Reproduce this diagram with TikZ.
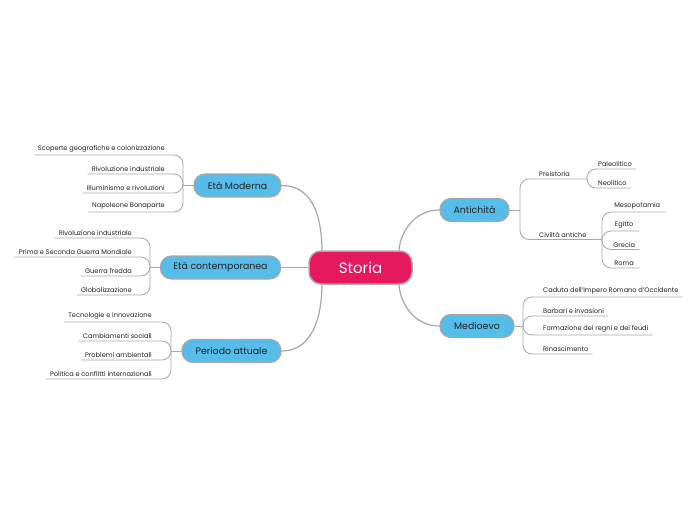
\documentclass[tikz,border=0pt]{standalone}
\usepackage{fontspec}
\setmainfont{Poppins}
\definecolor{topicblue}{HTML}{56BDEA}
\definecolor{rootred}{HTML}{E6195F}
\definecolor{edgegray}{HTML}{A8A8A8}
\definecolor{txt}{HTML}{222222}
\tikzset{
  rootnode/.style={draw=edgegray, line width=1.5pt, fill=rootred, rounded corners=12pt,
    minimum width=103pt, minimum height=33pt, text=white, font=\fontsize{15}{17}\selectfont},
  topic/.style={draw=edgegray, line width=1.2pt, fill=topicblue, rounded corners=11pt,
    minimum height=23pt, inner xsep=13pt, text=txt, font=\fontsize{9.4}{11}\selectfont},
  leafl/.style={anchor=south east, inner xsep=4pt, inner ysep=2.2pt, text=txt, font=\fontsize{6.6}{8}\selectfont},
  leafr/.style={anchor=south west, inner xsep=4pt, inner ysep=2.2pt, text=txt, font=\fontsize{6.6}{8}\selectfont},
  mainedge/.style={draw=edgegray, line width=1.2pt},
  subedge/.style={draw=edgegray, line width=0.8pt, rounded corners=9pt},
}
\begin{document}
\begin{tikzpicture}[x=1pt, y=-1pt]
\useasboundingbox (0,0) rectangle (697,520);
\fill[white] (0,0) rectangle (697,520);

% root and topics
\node[rootnode] (storia) at (360.5,267.5) {Storia};
\node[topic, minimum width=87pt] (moderna) at (237.5,185.5) {Età Moderna};
\node[topic, minimum width=119pt] (contemp) at (220.5,267.5) {Età contemporanea};
\node[topic, minimum width=99pt] (attuale) at (231.5,351) {Periodo attuale};
\node[topic, minimum width=69pt] (antichita) at (474.5,210) {Antichità};
\node[topic, minimum width=74pt] (medioevo) at (477,326) {Medioevo};

% main connectors
\coordinate (sNW) at (322,252);
\coordinate (sSW) at (322,283);
\coordinate (sNE) at (399,252);
\coordinate (sSE) at (399,283);
\draw[mainedge] (moderna.east) .. controls (312,185.5) and (322,215) .. (sNW);
\draw[mainedge] (contemp.east) -- (storia.west);
\draw[mainedge] (attuale.east) .. controls (312,351) and (322,318) .. (sSW);
\draw[mainedge] (antichita.west) .. controls (412,210) and (399,236) .. (sNE);
\draw[mainedge] (medioevo.west) .. controls (412,326) and (399,300) .. (sSE);

% ---------- Età Moderna ----------
\coordinate (jm) at (183,185.5);
\draw[subedge] (moderna.west) -- (jm);
\node[leafl] (m1) at (169,155) {Scoperte geografiche e colonizzazione};
\node[leafl] (m2) at (169,174) {Rivoluzione industriale};
\node[leafl] (m3) at (169,193) {Illuminismo e rivoluzioni};
\node[leafl] (m4) at (169,212) {Napoleone Bonaparte};
\foreach \n in {m1,m2,m3,m4} \draw[subedge] (\n.south west) -| (jm);

% ---------- Età contemporanea ----------
\coordinate (jc) at (150,267.5);
\draw[subedge] (contemp.west) -- (jc);
\node[leafl] (c1) at (136,238) {Rivoluzione industriale};
\node[leafl] (c2) at (136,257) {Prima e Seconda Guerra Mondiale};
\node[leafl] (c3) at (136,276) {Guerra fredda};
\node[leafl] (c4) at (136,295) {Globalizzazione};
\foreach \n in {c1,c2,c3,c4} \draw[subedge] (\n.south west) -| (jc);

% ---------- Periodo attuale ----------
\coordinate (ja) at (171,351);
\draw[subedge] (attuale.west) -- (ja);
\node[leafl] (a1) at (156,322) {Tecnologie e innovazione};
\node[leafl] (a2) at (156,341) {Cambiamenti sociali};
\node[leafl] (a3) at (156,360) {Problemi ambientali};
\node[leafl] (a4) at (156,379) {Politica e conflitti internazionali};
\foreach \n in {a1,a2,a3,a4} \draw[subedge] (\n.south west) -| (ja);

% ---------- Antichità ----------
\coordinate (jn) at (520,210);
\draw[subedge] (antichita.east) -- (jn);
\coordinate (jp) at (587,179);
\coordinate (jv) at (602,239.5);
\node[leafr] (preist) at (535,179) {Preistoria};
\node[leafr] (civ) at (535,239.5) {Civiltà antiche};
\draw[subedge] (jn) |- (jp);
\draw[subedge] (jn) |- (jv);
\node[leafr] (paleo) at (594,169) {Paleolitico};
\node[leafr] (neo) at (594,188) {Neolitico};
\draw[subedge] (jp) |- (paleo.south east);
\draw[subedge] (jp) |- (neo.south east);
\node[leafr, minimum width=56pt] (meso) at (609,212) {Mesopotamia};
\node[leafr, minimum width=30pt] (egitto) at (609,231) {Egitto};
\node[leafr, minimum width=30pt] (grecia) at (609,249.5) {Grecia};
\node[leafr, minimum width=30pt] (roma) at (609,268) {Roma};
\foreach \n in {meso,egitto,grecia,roma} \draw[subedge] (jv) |- (\n.south east);

% ---------- Medioevo ----------
\coordinate (jd) at (523,326);
\draw[subedge] (medioevo.east) -- (jd);
\node[leafr] (d1) at (539,297) {Caduta dell'Impero Romano d'Occidente};
\node[leafr] (d2) at (539,316) {Barbari e invasioni};
\node[leafr] (d3) at (539,335) {Formazione dei regni e dei feudi};
\node[leafr] (d4) at (539,354) {Rinascimento};
\foreach \n in {d1,d2,d3,d4} \draw[subedge] (jd) |- (\n.south east);
\end{tikzpicture}
\end{document}
